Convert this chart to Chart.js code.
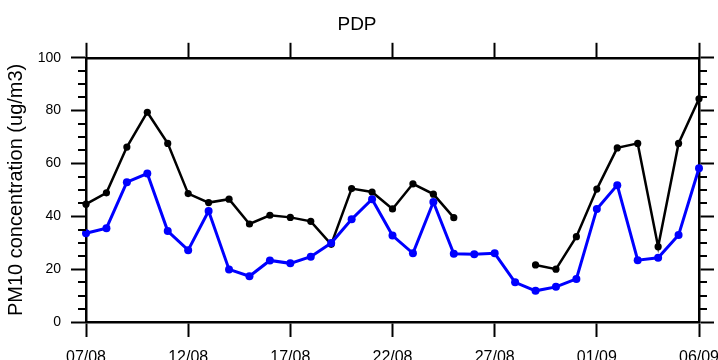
<!DOCTYPE html>
<html>
<head>
<meta charset="utf-8">
<script src="https://cdn.jsdelivr.net/npm/chart.js@4.4.1/dist/chart.umd.min.js"></script>
<style>
  html, body { margin: 0; padding: 0; background: #fff; }
  #wrap { width: 718px; height: 360px; }
</style>
</head>
<body>
<div id="wrap"><canvas id="c" width="718" height="360"></canvas></div>
<script>
// Daily dates, 07/08 to 06/09
const dates = [
  '07/08','08/08','09/08','10/08','11/08','12/08','13/08','14/08','15/08','16/08',
  '17/08','18/08','19/08','20/08','21/08','22/08','23/08','24/08','25/08','26/08',
  '27/08','28/08','29/08','30/08','31/08','01/09','02/09','03/09','04/09','05/09','06/09'
];

// PM10 series (ug/m3)
const blueSeries = [
  33.6, 35.5, 52.9, 56.2, 34.4, 27.2, 42.0, 19.9, 17.3, 23.3,
  22.2, 24.7, 29.9, 38.9, 46.5, 32.7, 26.0, 45.4, 25.8, 25.6,
  26.0, 15.0, 11.8, 13.3, 16.3, 42.8, 51.8, 23.4, 24.3, 32.9, 58.2
];
const blackSeries = [
  44.6, 48.9, 66.2, 79.4, 67.6, 48.6, 45.2, 46.5, 37.1, 40.4,
  39.6, 38.1, 29.4, 50.5, 49.2, 42.8, 52.3, 48.4, 39.5, null,
  null, null, 21.6, 20.0, 32.3, 50.3, 65.9, 67.6, 28.5, 67.6, 84.5
];

const yTickValues = [0, 20, 40, 60, 80, 100];
const xTickEvery = 5;

const FONT = "'Liberation Sans', Arial, Helvetica, sans-serif";

// keep only every 5th day as a tick
function keepEveryFifth(scale) {
  scale.ticks = scale.ticks.filter(t => t.value % xTickEvery === 0);
}
function noEdgePadding(scale) {
  scale.paddingLeft = 0; scale.paddingRight = 0;
  scale.paddingTop = 0; scale.paddingBottom = 0;
}

// minor ticks every 5 units on both vertical axes
const minorTicks = {
  id: 'minorTicks',
  afterDraw(chart) {
    const y = chart.scales.y;
    const { left, right } = chart.chartArea;
    const ctx = chart.ctx;
    ctx.save();
    ctx.strokeStyle = '#000';
    ctx.lineWidth = 2;
    for (let v = 0; v <= 100; v += 5) {
      if (v % 20 === 0) continue;
      const py = Math.round(y.getPixelForValue(v));
      ctx.beginPath();
      ctx.moveTo(left - 8, py); ctx.lineTo(left, py);
      ctx.moveTo(right, py); ctx.lineTo(right + 8, py);
      ctx.stroke();
    }
    ctx.restore();
  }
};

const axisGrid = {
  display: true,
  drawOnChartArea: false,
  drawTicks: true,
  tickLength: 15,
  tickWidth: 2,
  tickColor: '#000',
  color: '#000'
};
const axisBorder = { display: true, color: '#000', width: 2.5 };

new Chart(document.getElementById('c'), {
  type: 'line',
  data: {
    labels: dates,
    datasets: [
      {
        data: blueSeries,
        borderColor: '#0000ff',
        backgroundColor: '#0000ff',
        borderWidth: 3,
        pointRadius: 4,
        pointHoverRadius: 4,
        pointBorderWidth: 0,
        tension: 0,
        clip: false
      },
      {
        data: blackSeries,
        borderColor: '#000',
        backgroundColor: '#000',
        borderWidth: 2.5,
        pointRadius: 3.6,
        pointHoverRadius: 3.6,
        pointBorderWidth: 0,
        tension: 0,
        spanGaps: false,
        clip: false
      }
    ]
  },
  plugins: [minorTicks],
  options: {
    responsive: false,
    animation: false,
    events: [],
    layout: { padding: { top: 0, right: 4, bottom: 0, left: 0 } },
    plugins: {
      legend: { display: false },
      tooltip: { enabled: false },
      title: {
        display: true,
        text: 'PDP',
        color: '#000',
        font: { family: FONT, size: 19, weight: 'normal' },
        padding: { top: 13, bottom: 7 }
      }
    },
    scales: {
      x: {
        type: 'category',
        position: 'bottom',
        offset: false,
        afterBuildTicks: keepEveryFifth,
        afterFit(s) { noEdgePadding(s); s.height = 38; },
        grid: axisGrid,
        border: axisBorder,
        ticks: {
          autoSkip: false,
          maxRotation: 0,
          padding: 11,
          color: '#000',
          font: { family: FONT, size: 16 }
        }
      },
      x2: {
        type: 'category',
        position: 'top',
        labels: dates,
        offset: false,
        afterBuildTicks: keepEveryFifth,
        afterFit(s) { noEdgePadding(s); s.height = 15; },
        grid: axisGrid,
        border: axisBorder,
        ticks: { display: false, autoSkip: false }
      },
      y: {
        position: 'left',
        min: 0,
        max: 100,
        afterBuildTicks(s) { s.ticks = yTickValues.map(v => ({ value: v })); },
        afterFit(s) { noEdgePadding(s); s.width = 86; },
        grid: axisGrid,
        border: axisBorder,
        title: {
          display: true,
          text: 'PM10 concentration (ug/m3)',
          color: '#000',
          font: { family: FONT, size: 20, weight: 'normal' },
          padding: { top: 4, bottom: 0 }
        },
        ticks: {
          padding: 10,
          color: '#000',
          font: { family: FONT, size: 14 }
        }
      },
      y2: {
        position: 'right',
        min: 0,
        max: 100,
        afterBuildTicks(s) { s.ticks = yTickValues.map(v => ({ value: v })); },
        afterFit(s) { noEdgePadding(s); s.width = 15; },
        grid: axisGrid,
        border: axisBorder,
        ticks: { display: false }
      }
    }
  }
});
</script>
</body>
</html>
